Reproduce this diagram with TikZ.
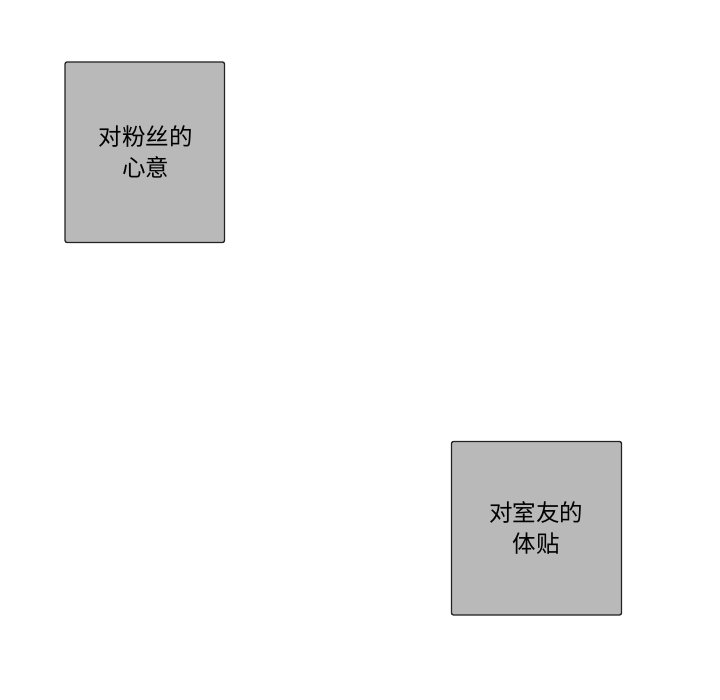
\documentclass[tikz,border=0pt]{standalone}
\usepackage{fontspec}
\newfontfamily\cjk{Noto Sans CJK SC}
\definecolor{boxfill}{HTML}{B9B9B9}
\definecolor{boxline}{HTML}{222222}
\begin{document}
\begin{tikzpicture}[x=1pt,y=-1pt,
  panel/.style={draw=boxline,fill=boxfill,line width=1.3pt,rounded corners=2pt},
  lbl/.style={font=\cjk\fontsize{23.5}{30.5}\selectfont,align=center,text=black,inner sep=0pt}]
\useasboundingbox (0,0) rectangle (720,700);
\draw[panel] (65,62) rectangle (224.5,242.5);
\node[lbl] (ta) at (145.5,152) {对粉丝的\\心意};
\draw[panel] (451.5,441.5) rectangle (621.5,615);
\node[lbl] (tb) at (536,528) {对室友的\\体贴};
\end{tikzpicture}
\end{document}
